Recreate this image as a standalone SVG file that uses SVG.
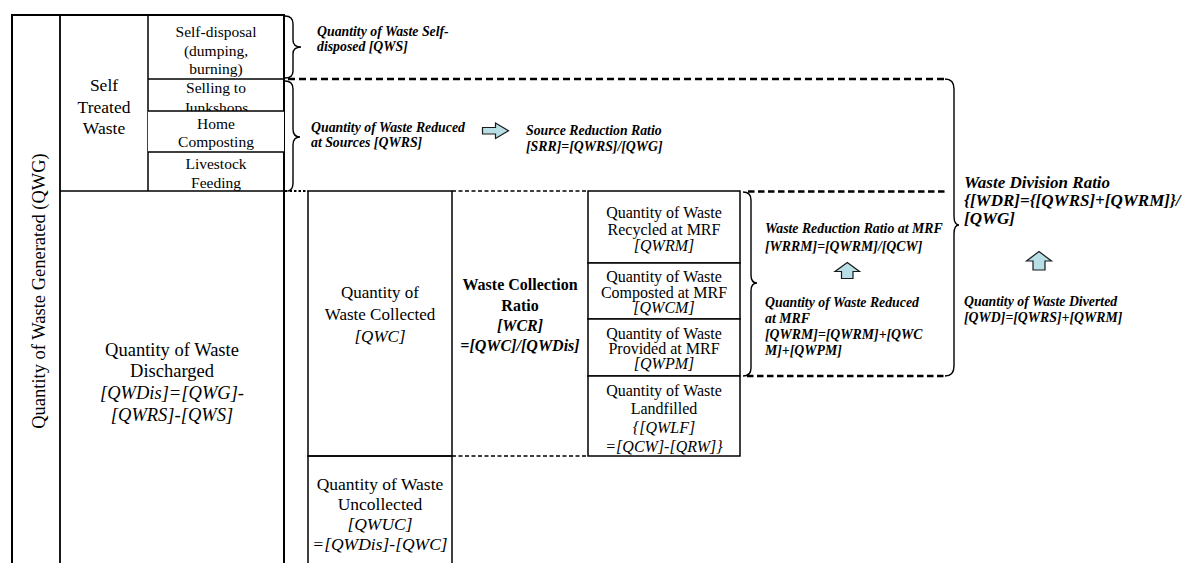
<svg xmlns="http://www.w3.org/2000/svg" width="1191" height="563" viewBox="0 0 1191 563">
  <defs>
    <style>
      .ln { stroke: #000; fill: none; }
      .box { fill: #fff; stroke: #000; stroke-width: 1.5; }
      .t { font-family: "Liberation Serif", "Times New Roman", serif; fill: #000; text-anchor: middle; }
      .i { font-style: italic; }
      .b { font-weight: bold; }
      .lbl { font-family: "Liberation Serif", "Times New Roman", serif; font-style: italic; font-weight: bold; font-size: 13.8px; fill: #000; }
      .lbl-big { font-size: 17px; }
      .brace { fill: none; stroke: #000; stroke-width: 1.4; }
      .dash-thick { stroke: #000; stroke-width: 2.6; stroke-dasharray: 7 4; fill: none; }
      .dash-mid { stroke: #000; stroke-width: 2.3; stroke-dasharray: 6.5 3.5; fill: none; }
      .dash-thin { stroke: #000; stroke-width: 1.4; stroke-dasharray: 4 2.5; fill: none; }
      .dot { stroke: #000; stroke-width: 2; stroke-dasharray: 2.5 2; fill: none; }
      .blk { fill: #b9dfe6; stroke: #1a1a1a; stroke-width: 1.2; stroke-linejoin: miter; }
    </style>
  </defs>
  <rect width="1191" height="563" fill="#fff"/>

  <!-- Outer frame: generated waste column -->
  <g id="qwg">
    <line class="ln" x1="12" y1="15" x2="284" y2="15" stroke-width="2"/>
    <line class="ln" x1="12" y1="14" x2="12" y2="563" stroke-width="2"/>
    <line class="ln" x1="60" y1="15" x2="60" y2="563" stroke-width="1.8"/>
    <line class="ln" x1="284" y1="14" x2="284" y2="563" stroke-width="2"/>
    <text class="t" font-size="18.5" transform="translate(45,291) rotate(-90)">Quantity of Waste Generated (QWG)</text>
  </g>

  <!-- Self treated waste -->
  <g id="self-treated">
    <line class="ln" x1="148" y1="15" x2="148" y2="191" stroke-width="1.5"/>
    <line class="ln" x1="60" y1="191" x2="284" y2="191" stroke-width="1.6"/>
    <text class="t" font-size="17.5" x="104" y="91">Self</text>
    <text class="t" font-size="17.5" x="104" y="113">Treated</text>
    <text class="t" font-size="17.5" x="104" y="134">Waste</text>
  </g>

  <g id="self-disposal">
    <line class="ln" x1="148" y1="79" x2="284" y2="79" stroke-width="1.5"/>
    <text class="t" font-size="15.5" x="216" y="37">Self-disposal</text>
    <text class="t" font-size="15.5" x="216" y="56">(dumping,</text>
    <text class="t" font-size="15.5" x="216" y="74">burning)</text>
  </g>

  <g id="junkshops">
    <text class="t" font-size="15.5" x="216" y="93">Selling to</text>
    <text class="t" font-size="15.5" x="216" y="113">Junkshops</text>
  </g>

  <g id="home-composting">
    <rect x="148" y="111" width="136" height="41" fill="#fff"/>
    <line class="ln" x1="148" y1="111" x2="284" y2="111" stroke-width="1.5"/>
    <text class="t" font-size="15.5" x="216" y="129">Home</text>
    <text class="t" font-size="15.5" x="216" y="147">Composting</text>
  </g>

  <g id="livestock">
    <line class="ln" x1="148" y1="152" x2="284" y2="152" stroke-width="1.5"/>
    <text class="t" font-size="15.5" x="216" y="169">Livestock</text>
    <text class="t" font-size="15.5" x="216" y="188">Feeding</text>
    <rect x="149" y="192" width="134" height="6" fill="#fff"/>
  </g>

  <!-- Discharged waste -->
  <g id="discharged">
    <text class="t" font-size="18.5" x="172" y="355.5">Quantity of Waste</text>
    <text class="t" font-size="18.5" x="172" y="377">Discharged</text>
    <text class="t i" font-size="18.5" x="172" y="399">[QWDis]=[QWG]-</text>
    <text class="t i" font-size="18.5" x="172" y="420.5">[QWRS]-[QWS]</text>
  </g>

  <!-- Collected waste -->
  <g id="collected">
    <rect class="box" x="308" y="191" width="144" height="265"/>
    <text class="t" font-size="17" x="380" y="298">Quantity of</text>
    <text class="t" font-size="17" x="380" y="320">Waste Collected</text>
    <text class="t i" font-size="17" x="380" y="342">[QWC]</text>
  </g>

  <!-- Uncollected waste -->
  <g id="uncollected">
    <polyline class="ln" points="308,563 308,456 452,456 452,563" stroke-width="1.5"/>
    <text class="t" font-size="17.5" x="380" y="489.5">Quantity of Waste</text>
    <text class="t" font-size="17.5" x="380" y="509.5">Uncollected</text>
    <text class="t i" font-size="17.5" x="380" y="529.5">[QWUC]</text>
    <text class="t i" font-size="17.5" x="380" y="549.5">=[QWDis]-[QWC]</text>
  </g>

  <!-- Collection ratio -->
  <g id="collection-ratio">
    <text class="t b" font-size="16" x="520" y="290">Waste Collection</text>
    <text class="t b" font-size="16" x="520" y="311">Ratio</text>
    <text class="t b i" font-size="16" x="520" y="331">[WCR]</text>
    <text class="t b i" font-size="16" x="520" y="351">=[QWC]/[QWDis]</text>
  </g>

  <!-- MRF breakdown -->
  <g id="recycled">
    <rect class="box" x="588" y="191" width="152" height="72"/>
    <text class="t" font-size="16" x="664" y="218">Quantity of Waste</text>
    <text class="t" font-size="16" x="664" y="235">Recycled at MRF</text>
    <text class="t i" font-size="16" x="664" y="251">[QWRM]</text>
  </g>
  <g id="composted">
    <rect class="box" x="588" y="263" width="152" height="56"/>
    <text class="t" font-size="16" x="664" y="282">Quantity of Waste</text>
    <text class="t" font-size="16" x="664" y="297.5">Composted at MRF</text>
    <text class="t i" font-size="16" x="664" y="312.5">[QWCM]</text>
  </g>
  <g id="provided">
    <rect class="box" x="588" y="319" width="152" height="57"/>
    <text class="t" font-size="16" x="664" y="338.5">Quantity of Waste</text>
    <text class="t" font-size="16" x="664" y="353.5">Provided at MRF</text>
    <text class="t i" font-size="16" x="664" y="368.5">[QWPM]</text>
  </g>
  <g id="landfilled">
    <rect class="box" x="588" y="376" width="152" height="80"/>
    <text class="t" font-size="16" x="664" y="396">Quantity of Waste</text>
    <text class="t" font-size="16" x="664" y="414">Landfilled</text>
    <text class="t i" font-size="16" x="664" y="433">{[QWLF]</text>
    <text class="t i" font-size="16" x="664" y="452">=[QCW]-[QRW]}</text>
  </g>

  <!-- Annotation labels -->
  <g id="qws-label">
    <text class="lbl" x="317" y="36">Quantity of Waste Self-</text>
    <text class="lbl" x="317" y="51">disposed [QWS]</text>
  </g>
  <g id="qwrs-label">
    <text class="lbl" x="311" y="132">Quantity of Waste Reduced</text>
    <text class="lbl" x="311" y="147">at Sources [QWRS]</text>
  </g>
  <g id="srr-label">
    <text class="lbl" x="526" y="134.5">Source Reduction Ratio</text>
    <text class="lbl" x="526" y="151">[SRR]=[QWRS]/[QWG]</text>
  </g>
  <g id="wrrm-label">
    <text class="lbl" x="765" y="233">Waste Reduction Ratio at MRF</text>
    <text class="lbl" x="765" y="251">[WRRM]=[QWRM]/[QCW]</text>
  </g>
  <g id="qwrm-label">
    <text class="lbl" x="765" y="307">Quantity of Waste Reduced</text>
    <text class="lbl" x="765" y="323">at MRF</text>
    <text class="lbl" x="765" y="339">[QWRM]=[QWRM]+[QWC</text>
    <text class="lbl" x="765" y="355">M]+[QWPM]</text>
  </g>
  <g id="wdr-label">
    <text class="lbl lbl-big" x="964" y="187.5">Waste Division Ratio</text>
    <text class="lbl lbl-big" x="964" y="205.5">{[WDR]={[QWRS]+[QWRM]}/</text>
    <text class="lbl lbl-big" x="964" y="224">[QWG]</text>
  </g>
  <g id="qwd-label">
    <text class="lbl" x="964" y="305.5">Quantity of Waste Diverted</text>
    <text class="lbl" x="964" y="322">[QWD]=[QWRS]+[QWRM]</text>
  </g>

  <!-- Connectors: braces, dashed boundaries and block arrows -->
  <g id="connectors">
    <line class="dot" x1="285" y1="191" x2="308" y2="191"/>
    <line class="dash-thin" x1="452" y1="191" x2="588" y2="191"/>
    <line class="dash-thin" x1="452" y1="456" x2="588" y2="456"/>
    <line class="dash-thick" x1="288" y1="79" x2="946" y2="79"/>
    <line class="dash-mid" x1="748" y1="191.5" x2="946" y2="191.5"/>
    <line class="dash-mid" x1="747" y1="376" x2="946" y2="376"/>

    <path class="brace" d="M285,16 Q293,16 293,24 L293,40 Q293,47 301,47 Q293,47 293,54 L293,71 Q293,78 285,78"/>
    <path class="brace" d="M285,81 Q293,81 293,89 L293,129 Q293,137 300,137 Q293,137 293,145 L293,183 Q293,190 288,191"/>
    <path class="brace" d="M743,192 Q751,192 751,200 L751,275 Q751,283 757,283 Q751,283 751,291 L751,368 Q751,376 743,376"/>
    <path class="brace" stroke-width="1.6" d="M945,79 Q954,79 954,89 L954,216 Q954,225 959,225 Q954,225 954,234 L954,366 Q954,376 945,376"/>

    <polygon class="blk" points="482.5,127.5 495.5,127.5 495.5,123 508.5,130.7 495.5,138.5 495.5,134 482.5,134"/>
    <polygon class="blk" points="841.5,278.5 841.5,271.5 835,271.5 847.3,262.5 859.5,271.5 853,271.5 853,278.5"/>
    <polygon class="blk" points="1033,270 1033,261 1026.5,261 1039,251.5 1051.5,261 1045,261 1045,270"/>
  </g>
</svg>
